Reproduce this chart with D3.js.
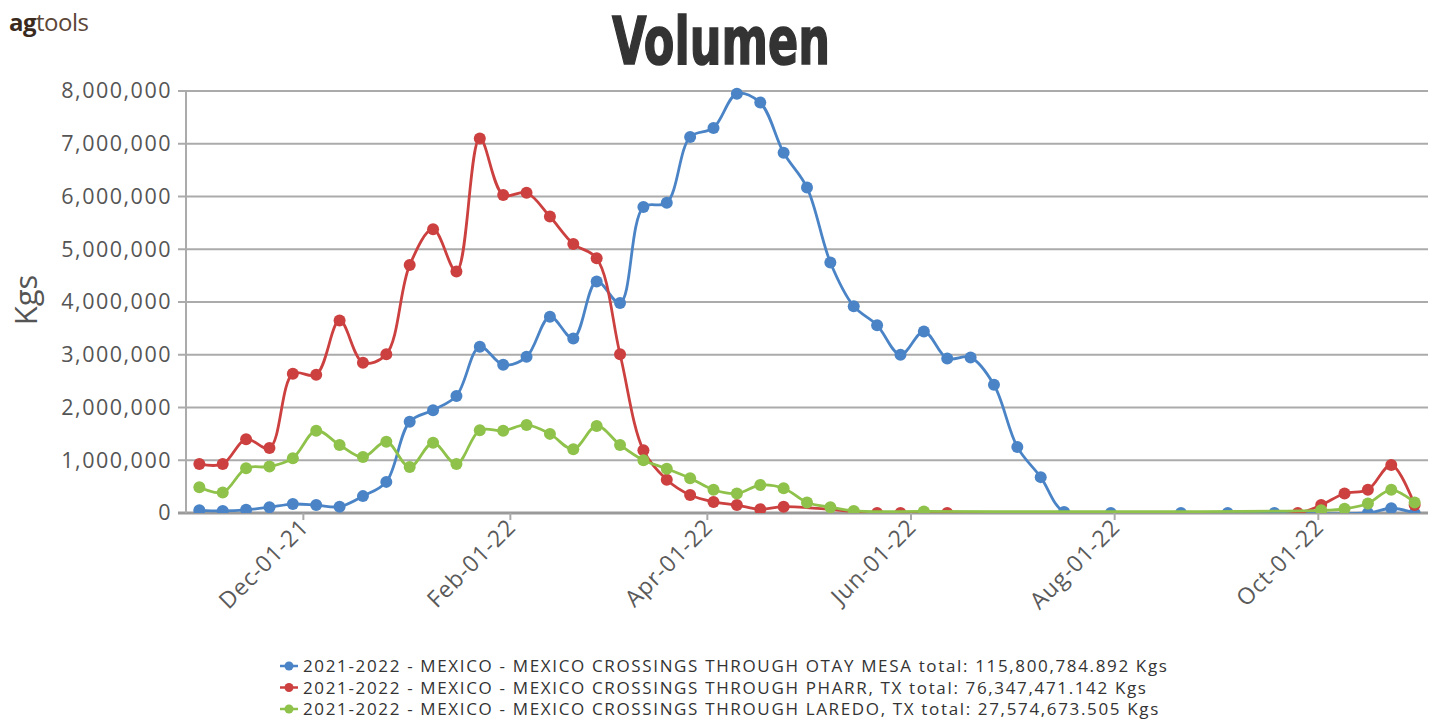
<!DOCTYPE html>
<html>
<head>
<meta charset="utf-8">
<script src="https://cdnjs.cloudflare.com/ajax/libs/d3/7.8.5/d3.min.js"></script>
<style>
  body { margin: 0; background: #fff; }
  svg { display: block; font-family: "Open Sans", sans-serif; }
</style>
</head>
<body>
<script>
// semanas (domingo) 
var fechas = [
  "2021-10-31", "2021-11-07", "2021-11-14", "2021-11-21", "2021-11-28", "2021-12-05", "2021-12-12", "2021-12-19", "2021-12-26",
  "2022-01-02", "2022-01-09", "2022-01-16", "2022-01-23", "2022-01-30", "2022-02-06", "2022-02-13", "2022-02-20", "2022-02-27",
  "2022-03-06", "2022-03-13", "2022-03-20", "2022-03-27", "2022-04-03", "2022-04-10", "2022-04-17", "2022-04-24", "2022-05-01",
  "2022-05-08", "2022-05-15", "2022-05-22", "2022-05-29", "2022-06-05", "2022-06-12", "2022-06-19", "2022-06-26", "2022-07-03",
  "2022-07-10", "2022-07-17", "2022-07-24", "2022-07-31", "2022-08-07", "2022-08-14", "2022-08-21", "2022-08-28", "2022-09-04",
  "2022-09-11", "2022-09-18", "2022-09-25", "2022-10-02", "2022-10-09", "2022-10-16", "2022-10-23", "2022-10-30"
];

// Kgs por semana (null = sin dato)
var otayMesa = [
  50000, 40000, 60000, 110000, 170000, 150000, 120000, 320000, 590000,
  1730000, 1950000, 2220000, 3150000, 2810000, 2960000, 3720000, 3310000, 4390000,
  3980000, 5800000, 5880000, 7130000, 7300000, 7950000, 7780000, 6830000, 6170000,
  4750000, 3920000, 3560000, 3000000, 3440000, 2930000, 2950000, 2430000, 1250000,
  680000, 20000, null, 0, null, null, 0, null, 0,
  null, 0, null, null, null, 0, 90000, 0
];
var pharr = [
  930000, 930000, 1400000, 1230000, 2640000, 2620000, 3650000, 2850000, 3010000,
  4700000, 5380000, 4580000, 7100000, 6030000, 6070000, 5620000, 5100000, 4830000,
  3010000, 1190000, 630000, 340000, 210000, 150000, 70000, 120000, null,
  null, null, 0, 0, null, 0, null, null, null,
  null, null, null, null, null, null, null, null, null,
  null, null, 0, 150000, 370000, 440000, 910000, 150000
];
var laredo = [
  490000, 390000, 850000, 880000, 1040000, 1560000, 1290000, 1060000, 1350000,
  870000, 1330000, 930000, 1570000, 1560000, 1670000, 1500000, 1210000, 1650000,
  1290000, 1000000, 840000, 660000, 440000, 370000, 530000, 470000, 200000,
  110000, 40000, null, null, 30000, null, null, null, null,
  null, null, null, null, null, null, null, null, null,
  null, null, null, 50000, 80000, 180000, 440000, 200000
];

var seriesNombres = [
  "2021-2022 - MEXICO - MEXICO CROSSINGS THROUGH OTAY MESA total: 115,800,784.892 Kgs",
  "2021-2022 - MEXICO - MEXICO CROSSINGS THROUGH PHARR, TX total: 76,347,471.142 Kgs",
  "2021-2022 - MEXICO - MEXICO CROSSINGS THROUGH LAREDO, TX total: 27,574,673.505 Kgs"
];
var colores = ["#4a84c6", "#cc4040", "#8fc24a"];

var ticksX = ["2021-12-01", "2022-02-01", "2022-04-01", "2022-06-01", "2022-08-01", "2022-10-01"];
var ticksY = [0, 1000000, 2000000, 3000000, 4000000, 5000000, 6000000, 7000000, 8000000];
var rangoX = ["2021-10-27", "2022-11-03"];

var parse = d3.timeParse("%Y-%m-%d");

var svg = d3.select("body").append("svg")
  .attr("width", 1437)
  .attr("height", 723);

var plotLeft = 186, plotRight = 1428, plotTop = 91, plotBottom = 513;

var xScale = d3.scaleTime().domain(rangoX.map(parse)).range([plotLeft, plotRight]);
var yScale = d3.scaleLinear().domain([0, 8000000]).range([plotBottom, plotTop]);

// logo
var logo = svg.append("text").attr("x", 9).attr("y", 31).style("font-size", "24px").style("letter-spacing", "-0.5px");
logo.append("tspan").text("ag").style("font-weight", "bold").attr("fill", "#3a2a1e");
logo.append("tspan").text("tools").attr("fill", "#5b4638");

// titulo
svg.append("text")
  .attr("x", 612).attr("y", 64)
  .attr("textLength", 218).attr("lengthAdjust", "spacingAndGlyphs")
  .style("font-family", "'Liberation Sans Narrow', 'DejaVu Sans Condensed', sans-serif")
  .style("font-weight", "bold").style("font-size", "66px")
  .attr("fill", "#333").attr("stroke", "#333").attr("stroke-width", 1.5)
  .text("Volumen");

// grid
svg.append("g").selectAll("line")
  .data(ticksY)
  .enter().append("line")
  .attr("x1", plotLeft - 8).attr("x2", plotRight)
  .attr("y1", function (d) { return yScale(d); })
  .attr("y2", function (d) { return yScale(d); })
  .attr("stroke", function (d) { return d === 0 ? "#9a9a9a" : "#ababab"; })
  .attr("stroke-width", function (d) { return d === 0 ? 3 : 2; });

svg.append("line")
  .attr("x1", plotLeft).attr("x2", plotLeft).attr("y1", plotTop).attr("y2", plotBottom)
  .attr("stroke", "#ababab").attr("stroke-width", 2);

// eje y
var yAxis = svg.append("g")
  .attr("transform", "translate(" + (plotLeft - 10) + ",0)")
  .call(d3.axisLeft(yScale).tickValues(ticksY).tickFormat(d3.format(",")).tickSize(0).tickPadding(4));
yAxis.select(".domain").remove();
yAxis.selectAll("text")
  .style("font-family", "'Open Sans', sans-serif")
  .style("font-size", "21.5px").style("letter-spacing", "1.5px")
  .attr("fill", "#555");

svg.append("text")
  .attr("transform", "translate(37,300) rotate(-90)")
  .attr("text-anchor", "middle")
  .style("font-size", "31px").attr("fill", "#555")
  .text("Kgs");

// eje x
var xAxis = svg.append("g")
  .attr("transform", "translate(0," + plotBottom + ")")
  .call(d3.axisBottom(xScale).tickValues(ticksX.map(parse)).tickFormat(d3.timeFormat("%b-%d-%y")).tickSize(7));
xAxis.select(".domain").remove();
xAxis.selectAll("line").attr("stroke", "#aaa").attr("stroke-width", 2);
xAxis.selectAll("text")
  .style("font-family", "'Open Sans', sans-serif")
  .style("font-size", "23px").style("letter-spacing", "0.8px").attr("fill", "#5a5a5a")
  .attr("text-anchor", "end")
  .attr("x", 0).attr("y", 0).attr("dy", "0.35em")
  .attr("transform", "translate(1,10) rotate(-45)");

// series
svg.append("clipPath").attr("id", "plotClip")
  .append("rect").attr("x", plotLeft).attr("y", plotTop - 6).attr("width", plotRight - plotLeft + 6).attr("height", plotBottom - plotTop + 6);

var linea = d3.line()
  .x(function (d) { return xScale(d.fecha); })
  .y(function (d) { return yScale(d.valor); })
  .curve(d3.curveCatmullRom.alpha(0.5));

var todas = [otayMesa, pharr, laredo];
var plot = svg.append("g").attr("clip-path", "url(#plotClip)");

todas.forEach(function (valores, k) {
  var puntos = [];
  valores.forEach(function (v, i) {
    if (v !== null) puntos.push({ fecha: parse(fechas[i]), valor: v });
  });
  var g = plot.append("g");
  g.append("path")
    .datum(puntos)
    .attr("fill", "none")
    .attr("stroke", colores[k])
    .attr("stroke-width", 2.8)
    .attr("d", linea);
  g.selectAll("circle")
    .data(puntos)
    .enter().append("circle")
    .attr("cx", function (d) { return xScale(d.fecha); })
    .attr("cy", function (d) { return yScale(d.valor); })
    .attr("r", 6)
    .attr("fill", colores[k]);
});

// leyenda
var leyenda = svg.append("g");
seriesNombres.forEach(function (nombre, k) {
  var y = 666 + k * 21.5;
  leyenda.append("line")
    .attr("x1", 280).attr("x2", 298).attr("y1", y).attr("y2", y)
    .attr("stroke", colores[k]).attr("stroke-width", 2.5);
  leyenda.append("circle").attr("cx", 289).attr("cy", y).attr("r", 4.5).attr("fill", colores[k]);
  leyenda.append("text")
    .attr("x", 303).attr("y", y).attr("dy", "0.36em")
    .style("font-size", "17px").style("letter-spacing", "1.65px").attr("fill", "#333")
    .text(nombre);
});
</script>
</body>
</html>
